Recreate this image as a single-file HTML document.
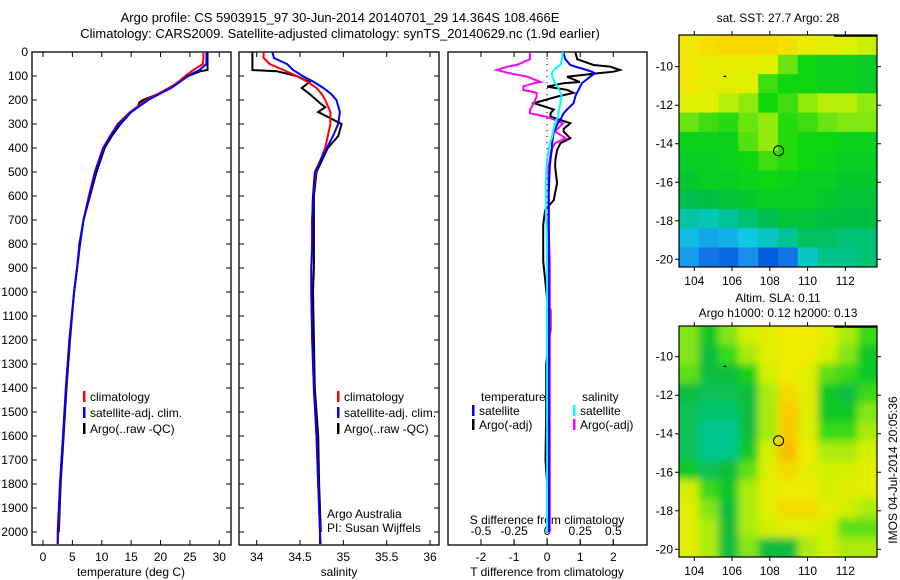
<!DOCTYPE html>
<html><head><meta charset="utf-8">
<style>
html,body{margin:0;padding:0;background:#fff;}
svg{display:block;font-family:"Liberation Sans",sans-serif;}
text{fill:#000;}
</style></head>
<body>
<svg id="fig" width="900" height="580" viewBox="0 0 900 580">
<defs>
<clipPath id="c1"><rect x="32" y="52" width="199" height="493"/></clipPath>
<clipPath id="c2"><rect x="239" y="52" width="200" height="493"/></clipPath>
<clipPath id="c3"><rect x="448" y="52" width="199" height="493"/></clipPath>
<clipPath id="cm1"><rect x="679" y="35" width="198" height="232"/></clipPath>
<clipPath id="cm2"><rect x="679" y="326" width="198" height="231"/></clipPath>
<filter id="blur" x="-5%" y="-5%" width="110%" height="110%"><feGaussianBlur stdDeviation="4"/></filter>
</defs>
<text x="340" y="22" font-size="13" text-anchor="middle">Argo profile: CS 5903915_97 30-Jun-2014 20140701_29 14.364S 108.466E</text>
<text x="340" y="38" font-size="13" text-anchor="middle">Climatology: CARS2009. Satellite-adjusted climatology: synTS_20140629.nc (1.9d earlier)</text>
<g id="g1"></g>
<g id="g2"></g>
<g id="g3"></g>
<g id="m1"></g>
<g id="m2"></g>
<text x="778" y="22" font-size="12" text-anchor="middle">sat. SST: 27.7 Argo: 28</text>
<text x="778" y="302" font-size="12" text-anchor="middle">Altim. SLA: 0.11</text>
<text x="778" y="317" font-size="12" text-anchor="middle">Argo h1000: 0.12 h2000: 0.13</text>
<text transform="translate(897,470) rotate(-90)" font-size="12" text-anchor="middle">IMOS 04-Jul-2014 20:05:36</text>
</svg>
<script>
const NS="http://www.w3.org/2000/svg";
// ---------- data ----------
const depths=[0,25,50,75,100,125,150,175,200,250,300,350,400,500,600,700,800,900,1000,1200,1400,1600,1800,2000,2050];
const tempClim=[27.3,27.3,27.2,25.6,24.2,23.0,21.5,19.5,17.6,14.8,12.7,11.4,10.2,8.8,7.8,6.9,6.3,5.8,5.3,4.5,3.9,3.4,2.9,2.6,2.5];
const tempSat=[27.8,27.8,27.8,26.6,24.6,23.3,21.8,19.8,17.9,15.0,12.9,11.5,10.3,8.9,7.9,6.9,6.3,5.8,5.3,4.5,3.9,3.4,2.9,2.5,2.5];
const argoDepths=[0,25,50,75,80,100,125,150,175,200,210,230,250,300,350,400,500,600,700,800,900,1000,1200,1400,1600,1800,2000];
const tempArgo=[28.0,28.0,28.0,28.0,26.8,24.7,23.2,21.4,19.6,17.0,16.4,16.1,15.0,13.2,11.7,10.5,9.1,8.0,6.9,6.2,5.8,5.3,4.6,4.0,3.5,3.0,2.7];
const salClim=[34.08,34.08,34.15,34.31,34.46,34.59,34.69,34.75,34.79,34.85,34.85,34.82,34.79,34.68,34.65,34.64,34.64,34.63,34.63,34.64,34.66,34.69,34.71,34.73,34.74];
const salSat=[34.18,34.20,34.35,34.42,34.53,34.66,34.77,34.86,34.92,34.96,34.94,34.88,34.81,34.67,34.65,34.64,34.64,34.63,34.63,34.64,34.66,34.69,34.71,34.73,34.73];
const salArgo=[33.95,33.95,33.95,33.95,34.23,34.46,34.61,34.52,34.61,34.69,34.72,34.79,34.71,34.98,34.94,34.82,34.69,34.66,34.66,34.66,34.66,34.65,34.66,34.67,34.71,34.72,34.74];
const diffDepths=[0,30,54,61,75,82,89,103,125,130,144,158,170,186,213,240,255,269,283,297,320,332,359,380,408,449,477,547,587,617,658,720,870,1030,1075,1160,1300,1500,1700,1900,2000];
const tDiffSat=[0.49,0.55,0.70,0.85,1.2,1.35,1.45,1.3,1.1,1.05,1.0,0.95,0.9,0.85,0.80,0.6,0.5,0.45,0.40,0.32,0.25,0.2,0.17,0.15,0.14,0.1,0.08,0.06,0.05,0.05,0.05,0.05,0.05,0.05,0.05,0.05,0.05,0.05,0.05,0.05,0.05];
const tDiffArgo=[0.85,0.91,1.4,1.9,2.2,2.0,1.5,0.6,0.99,0.5,0.0,0.6,0.8,0.3,-0.4,0.2,0.1,0.1,0.4,0.7,0.5,0.5,0.7,0.4,0.3,0.25,0.24,0.3,0.24,0.2,-0.06,-0.12,-0.12,0.0,0.1,0.1,-0.03,-0.03,-0.05,0.05,0.05];
const sDiffSat=[0.12,0.11,0.10,0.08,0.05,0.04,0.035,0.04,0.055,0.06,0.08,0.09,0.10,0.11,0.10,0.09,0.085,0.085,0.07,0.06,0.05,0.045,0.035,0.02,0.01,0.0,-0.005,-0.01,-0.01,-0.01,-0.01,-0.005,0,0,0,0,0,0,0,0,0];
const sDiffArgo=[-0.13,-0.13,-0.23,-0.30,-0.38,-0.33,-0.28,-0.15,-0.05,-0.1,-0.18,-0.18,-0.08,-0.08,-0.10,-0.13,-0.13,-0.01,0.06,0.12,0.08,0.06,0.14,0.06,0.03,0.02,0.01,0.01,0.01,0.01,0.01,0.01,0.02,0.02,0.02,0.02,0.02,0.02,0.02,0.02,0.02];
const depthTicks=[0,100,200,300,400,500,600,700,800,900,1000,1100,1200,1300,1400,1500,1600,1700,1800,1900,2000];
const tempTicks=[0,5,10,15,20,25,30];
const salTicks=[34,34.5,35,35.5,36];
const tDiffTicks=[-2,-1,0,1,2];
const sDiffTicks=[-0.5,-0.25,0,0.25,0.5];
const sDiffTickLabels=["-0.5","-0.25","0","0.25","0.5"];
const lonTicks=[104,106,108,110,112];
const latTicks=[-10,-12,-14,-16,-18,-20];
const sstGrid=[
[28.3,28.4,28.5,28.5,28.5,28.4,28.2,28.0,27.8,27.7],
[28.3,28.0,28.0,28.0,27.8,27.2,26.8,26.7,26.7,26.6],
[28.3,28.0,27.9,27.8,27.0,26.8,26.8,26.7,26.7,26.6],
[27.9,27.8,27.6,27.4,26.8,27.0,27.4,27.6,27.6,27.4],
[27.2,27.0,26.9,27.2,27.4,26.9,27.0,27.2,27.3,27.3],
[26.7,26.7,26.7,27.1,27.4,26.9,26.8,26.8,26.7,26.7],
[26.6,26.6,26.7,26.8,27.0,26.9,26.8,26.7,26.6,26.6],
[26.5,26.6,26.6,26.7,26.8,26.7,26.6,26.6,26.5,26.5],
[26.2,26.3,26.4,26.5,26.6,26.6,26.6,26.5,26.4,26.4],
[25.7,25.6,25.8,26.0,26.2,26.4,26.4,26.3,26.3,26.3],
[25.2,25.0,25.1,25.3,25.5,25.8,26.1,26.1,26.0,26.0],
[24.9,24.6,24.5,24.8,24.4,24.6,25.5,25.9,25.9,26.0]];
const slaGrid=[
[0.08,0.04,0.08,0.10,0.11,0.12,0.12,0.11,0.09,0.06],
[0.08,0.03,0.06,0.09,0.11,0.12,0.12,0.10,0.08,0.04],
[0.07,0.03,0.03,0.05,0.10,0.12,0.11,0.07,0.06,0.04],
[0.03,0.02,0.02,0.03,0.09,0.13,0.11,0.04,0.03,0.06],
[0.02,0.01,0.01,0.03,0.09,0.14,0.11,0.04,0.04,0.08],
[0.02,0.00,0.00,0.03,0.09,0.14,0.11,0.06,0.06,0.09],
[0.02,-0.01,0.00,0.04,0.10,0.15,0.12,0.09,0.09,0.10],
[0.04,0.02,0.03,0.07,0.11,0.13,0.11,0.10,0.10,0.11],
[0.10,0.06,0.04,0.09,0.11,0.12,0.12,0.10,0.11,0.11],
[0.11,0.08,0.03,0.09,0.11,0.13,0.13,0.11,0.10,0.09],
[0.11,0.09,0.03,0.09,0.10,0.11,0.11,0.10,0.07,0.07],
[0.11,0.09,0.03,0.08,0.03,0.03,0.09,0.10,0.09,0.09]];
const argoLon=108.466, argoLat=-14.364;
// ---------- helpers ----------
function el(tag,attrs,parent){const e=document.createElementNS(NS,tag);for(const k in attrs)e.setAttribute(k,attrs[k]);parent.appendChild(e);return e;}
const yD=d=>52+d*0.24;
function lin(v0,p0,v1,p1){return v=>p0+(v-v0)*(p1-p0)/(v1-v0);}
const xT=lin(0,43,30,219.3), xS=lin(34,256.7,36,430), xTd=lin(-2,481,2,613.3), xSd=lin(-0.5,481,0.5,613.3);
function line(g,xs,ds,xf,color,name,clip){
  const p=el('polyline',{points:xs.map((v,i)=>xf(v).toFixed(1)+','+yD(ds[i]).toFixed(1)).join(' '),fill:'none',stroke:color,'stroke-width':2,'clip-path':'url(#'+clip+')'},g);
  
  
}
function frame(g,x0,x1,name){
  const r=el('rect',{x:x0,y:52,width:x1-x0,height:493,fill:'none',stroke:'#000','stroke-width':1.3},g);
  
  
  depthTicks.forEach(d=>{el('line',{x1:x0,x2:x0+5,y1:yD(d),y2:yD(d),stroke:'#000'},g);el('line',{x1:x1-5,x2:x1,y1:yD(d),y2:yD(d),stroke:'#000'},g);});
}
function xticks(g,ticks,labels,xf,ly,top,bottom){
  ticks.forEach((t,i)=>{const x=xf(t);
    if(top)el('line',{x1:x,x2:x,y1:52,y2:57,stroke:'#000'},g);
    if(bottom)el('line',{x1:x,x2:x,y1:bottom-5,y2:bottom,stroke:'#000'},g);
    const tx=el('text',{x:x,y:ly,'font-size':12,'text-anchor':'middle'},g);tx.textContent=labels[i];
    
    });
}
function txt(g,x,y,s,name,anchor){const t=el('text',{x:x,y:y,'font-size':12,'text-anchor':anchor||'start'},g);t.textContent=s;
  
  return t;}
function legend(g,x,y,color,label,name){
  const m=el('rect',{x:x,y:y-10,width:2.5,height:11,fill:color},g);
  
  
  txt(g,x+7,y,label,name);
}
// ---------- panel 1 ----------
const g1=document.getElementById('g1');
frame(g1,32,231,'temperature-axes');
depthTicks.forEach(d=>{const t=txt(g1,28,yD(d)+4,String(d),'depth-tick-label','end');});
xticks(g1,tempTicks,tempTicks.map(String),xT,561,true,545);
txt(g1,131,576,'temperature (deg C)','temperature-axis-title','middle');
line(g1,tempArgo,argoDepths,xT,'#000','temp-argo-line','c1');
line(g1,tempClim,depths,xT,'#f00','temp-climatology-line','c1');
line(g1,tempSat,depths,xT,'#00f','temp-satellite-line','c1');
legend(g1,83,401,'#f00','climatology','legend-climatology');
legend(g1,83,417,'#00f','satellite-adj. clim.','legend-satellite');
legend(g1,83,433,'#000','Argo(..raw -QC)','legend-argo');
// ---------- panel 2 ----------
const g2=document.getElementById('g2');
frame(g2,239,439,'salinity-axes');
xticks(g2,salTicks,salTicks.map(String),xS,561,true,545);
txt(g2,339,576,'salinity','salinity-axis-title','middle');
line(g2,salArgo,argoDepths,xS,'#000','sal-argo-line','c2');
line(g2,salClim,depths,xS,'#f00','sal-climatology-line','c2');
line(g2,salSat,depths,xS,'#00f','sal-satellite-line','c2');
legend(g2,337,401,'#f00','climatology','legend-climatology');
legend(g2,337,417,'#00f','satellite-adj. clim.','legend-satellite');
legend(g2,337,433,'#000','Argo(..raw -QC)','legend-argo');
txt(g2,327,518,'Argo Australia','credit-institution');
txt(g2,327,532,'PI: Susan Wijffels','credit-pi');
// ---------- panel 3 ----------
const g3=document.getElementById('g3');
const r3=el('rect',{x:448,y:52,width:199,height:493,fill:'none',stroke:'#000','stroke-width':1.3},g3);


xticks(g3,tDiffTicks,tDiffTicks.map(String),xTd,561,true,545);
for(let d=0;d<=2050;d+=25){el('rect',{x:546.5,y:yD(d),width:1,height:1.2,fill:'#000'},g3);}
sDiffTicks.forEach((t,i)=>{const x=xSd(t);el('line',{x1:x,x2:x,y1:539,y2:545,stroke:'#000'},g3);
  const tx=txt(g3,x,535,sDiffTickLabels[i],'s-diff-tick-label','middle');});
txt(g3,547,524,'S difference from climatology','s-diff-axis-title','middle');
txt(g3,547,576,'T difference from climatology','t-diff-axis-title','middle');
line(g3,tDiffArgo,diffDepths,xTd,'#000','t-diff-argo-line','c3');
line(g3,sDiffArgo,diffDepths,xSd,'#f0f','s-diff-argo-line','c3');
line(g3,tDiffSat,diffDepths,xTd,'#00f','t-diff-satellite-line','c3');
line(g3,sDiffSat,diffDepths,xSd,'#0ff','s-diff-satellite-line','c3');
txt(g3,481,401,'temperature','legend-temperature-heading');
legend(g3,472,415,'#00f','satellite','legend-t-satellite');
legend(g3,472,429,'#000','Argo(-adj)','legend-t-argo');
txt(g3,582,401,'salinity','legend-salinity-heading');
legend(g3,573,415,'#0ff','satellite','legend-s-satellite');
legend(g3,573,429,'#f0f','Argo(-adj)','legend-s-argo');
// ---------- maps ----------
const sstStops=[[24.3,[0,80,216]],[24.8,[24,144,240]],[25.3,[16,200,224]],[25.8,[0,196,150]],[26.3,[0,190,64]],[26.8,[16,214,16]],[27.3,[128,232,16]],[27.8,[220,240,0]],[28.3,[240,232,0]],[28.7,[255,196,0]]];
const slaStops=[[0.0,[0,200,140]],[0.03,[10,190,60]],[0.05,[20,210,20]],[0.08,[130,230,20]],[0.10,[210,240,0]],[0.12,[240,235,0]],[0.15,[250,190,0]]];
function cmap(stops,v){if(v<=stops[0][0])return stops[0][1];for(let i=1;i<stops.length;i++){if(v<=stops[i][0]){const a=stops[i-1],b=stops[i],f=(v-a[0])/(b[0]-a[0]);return a[1].map((c,k)=>Math.round(c+(b[1][k]-c)*f));}}return stops[stops.length-1][1];}
function drawMap(id,grid,stops,y0,y1,latPix,clip,blur){
  const g=document.getElementById(id);
  const x0=679,x1=877;
  const xL=lin(104,694.3,112,845.3), yL=lin(-10,latPix[0],-20,latPix[1]);
  const lon0=103.2,lon1=113.7,lat0=-8.4,lat1=-20.4;
  const rows=grid.length,cols=grid[0].length;
  const cg=el('g',{'clip-path':'url(#'+clip+')'},g);
  const inner=el('g',blur?{filter:'url(#blur)'}:{},cg);
  grid.forEach((row,r)=>row.forEach((v,c)=>{
    const la=lat0+(lat1-lat0)*r/rows, lb=lat0+(lat1-lat0)*(r+1)/rows;
    const oa=lon0+(lon1-lon0)*c/cols, ob=lon0+(lon1-lon0)*(c+1)/cols;
    const padx=(c===0?-12:0), padx2=(c===cols-1?12:0), pady=(r===0?-12:0), pady2=(r===rows-1?12:0);
    const col=cmap(stops,v);
    const cell=el('rect',{x:xL(oa)+padx-0.3,y:yL(la)+pady-0.3,width:xL(ob)-xL(oa)-padx+padx2+0.6,height:yL(lb)-yL(la)-pady+pady2+0.6,fill:'rgb('+col.join(',')+')'},inner);
    
    
  }));
  const fr=el('rect',{x:x0,y:y0,width:x1-x0,height:y1-y0,fill:'none',stroke:'#000','stroke-width':1.2},g);
  
  
  el('line',{x1:834,x2:877,y1:y0+1,y2:y0+1,stroke:'#000','stroke-width':1.5},g);
  lonTicks.forEach(l=>{const x=xL(l);el('line',{x1:x,x2:x,y1:y0,y2:y0-4,stroke:'#000'},g);el('line',{x1:x,x2:x,y1:y1,y2:y1+4,stroke:'#000'},g);
    const t=txt(g,x,y1+18,String(l),'lon-tick-label','middle');});
  latTicks.forEach(l=>{const y=yL(l);el('line',{x1:x0,x2:x0-4,y1:y,y2:y,stroke:'#000'},g);el('line',{x1:x1,x2:x1+4,y1:y,y2:y,stroke:'#000'},g);
    const t=txt(g,x0-6,y+4,String(l),'lat-tick-label','end');});
  const ci=el('circle',{cx:xL(argoLon),cy:yL(argoLat),r:5,fill:'none',stroke:'#000','stroke-width':1},g);
  
  
  el('path',{d:'M'+(xL(105.6)-2)+' '+(yL(-10.5))+' l3 -1 l1 2 z',fill:'#000'},g);
}
drawMap('m1',sstGrid,sstStops,35,267,[66.7,259.3],'cm1',false);
drawMap('m2',slaGrid,slaStops,326,557,[356.7,549.3],'cm2',true);
</script>
</body></html>
